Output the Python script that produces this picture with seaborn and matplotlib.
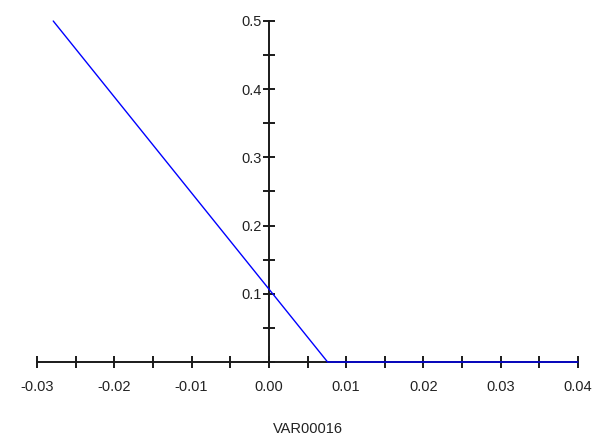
import matplotlib
matplotlib.use("Agg")
import matplotlib.pyplot as plt
from matplotlib.ticker import MultipleLocator, FixedLocator, FixedFormatter
import pandas as pd
import seaborn as sns

# Piecewise-linear curve: falling ramp, then flat at zero
x_vals = [-0.0279, 0.0076, 0.04]
y_vals = [0.5, 0.0, 0.0]
x_label = "VAR00016"
x_tick_vals = [-0.03, -0.02, -0.01, 0.00, 0.01, 0.02, 0.03, 0.04]
x_tick_text = ["-0.03", "-0.02", "-0.01", "0.00", "0.01", "0.02", "0.03", "0.04"]
y_tick_vals = [0.1, 0.2, 0.3, 0.4, 0.5]
y_tick_text = ["0.1", "0.2", "0.3", "0.4", "0.5"]

sns.set_style("white")
plt.rcParams["font.family"] = ["Liberation Sans", "DejaVu Sans"]

df = pd.DataFrame({"x": x_vals, "y": y_vals})

fig = plt.figure(figsize=(6.01, 4.48), dpi=100)
ax = fig.add_axes([37 / 601, (448 - 362) / 448, 541 / 601, 341 / 448])

sns.lineplot(data=df, x="x", y="y", ax=ax, color="#0000ff", linewidth=1.0,
             clip_on=False, zorder=3)

ax.set_xlim(-0.03, 0.04)
ax.set_ylim(0, 0.5)

for side in ("top", "right"):
    ax.spines[side].set_visible(False)
ax.spines["left"].set_position(("data", 0))
ax.spines["bottom"].set_position(("data", 0))
for side in ("left", "bottom"):
    ax.spines[side].set_color("#1a1a1a")
    ax.spines[side].set_linewidth(1.4)
    ax.spines[side].set_zorder(2)

ax.xaxis.set_major_locator(FixedLocator(x_tick_vals))
ax.xaxis.set_major_formatter(FixedFormatter(x_tick_text))
ax.xaxis.set_minor_locator(MultipleLocator(0.005))
ax.yaxis.set_major_locator(FixedLocator(y_tick_vals))
ax.yaxis.set_major_formatter(FixedFormatter(y_tick_text))
ax.yaxis.set_minor_locator(MultipleLocator(0.05))

ax.tick_params(axis="both", which="both", bottom=True, left=True,
               top=False, right=False, direction="inout", length=8,
               width=1.4, color="#1a1a1a", labelsize=10.5, labelcolor="#222222")
ax.tick_params(axis="x", which="major", pad=9)
ax.tick_params(axis="y", which="major", pad=1)

ax.set_xlabel(x_label, fontsize=10.5, color="#222222", labelpad=20)
ax.set_ylabel("")
ax.grid(False)

fig.savefig("out.png", dpi=100)
